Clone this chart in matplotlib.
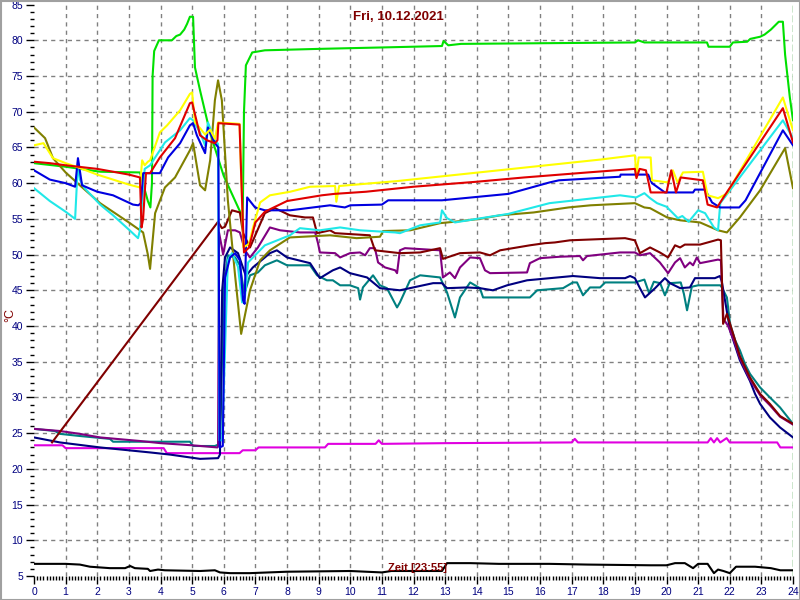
# -*- coding: utf-8 -*-
'''
    Temperaturverlauf eines Tages (Fri, 10.12.2021)
'''
import matplotlib
matplotlib.use('Agg')
import matplotlib.pyplot as plt
from matplotlib.patches import Rectangle

plt.rcParams['font.family'] = ['Liberation Sans', 'DejaVu Sans']

'''
    Daten (Stunde, Temperatur in °C), aus dem Bild abgelesen
'''
green_h = [0, 1.0, 2.1, 3.35, 3.6, 3.68, 3.73, 3.75, 3.8, 3.95, 4.36, 4.5, 4.62, 4.75, 4.84, 4.93, 5.03, 5.09,
           5.25, 5.57, 6.0, 6.6, 6.64, 6.7, 6.9, 7.3, 9.0, 11.0, 12.9, 12.95, 13.1, 13.5, 19.0, 19.1, 19.3,
           21.28, 21.33, 22.0, 22.1, 22.55, 22.65, 22.96, 23.1, 23.3, 23.55, 23.68, 23.75, 23.9, 24.0]
green_v = [62.8, 62.3, 61.6, 61.5, 57.5, 56.6, 60.0, 75.0, 78.5, 80.0, 80.0, 80.6, 80.8, 81.5, 82.3, 83.3, 83.3, 76.2,
           73.0, 67.0, 61.0, 55.2, 70.0, 76.5, 78.3, 78.6, 78.8, 79.0, 79.2, 79.9, 79.3, 79.5, 79.7, 80.0, 79.7,
           79.7, 79.1, 79.1, 79.7, 79.8, 80.2, 80.5, 80.8, 81.5, 82.6, 82.6, 78.0, 72.0, 68.8]

yellow_h = [0, 0.3, 0.6, 1.0, 1.4, 2.0, 3.0, 3.35, 3.42, 3.5, 3.6, 3.67, 3.98, 4.21, 4.62, 4.93, 5.0, 5.09,
            5.25, 5.41, 5.57, 5.72, 5.82, 6.5, 6.62, 6.8, 6.92, 7.15, 7.46, 8.1, 8.73, 9.52, 9.56, 9.65, 11.5,
            14.7, 17.9, 19.0, 19.05, 19.12, 19.5, 19.54, 20.05, 20.2, 20.35, 20.52, 21.15, 21.3, 21.63, 21.9,
            23.68, 24.0]
yellow_v = [65.3, 65.6, 63.5, 62.8, 62.2, 61.2, 59.8, 59.4, 63.2, 62.5, 63.0, 63.2, 67.1, 68.1, 70.2, 72.5, 72.7, 68.5,
            67.7, 66.8, 67.5, 66.2, 68.5, 68.3, 51.0, 51.5, 53.7, 57.3, 58.3, 58.8, 59.5, 59.6, 57.4, 59.6, 60.3,
            61.8, 63.3, 63.9, 61.1, 63.6, 63.6, 60.4, 60.1, 61.8, 60.1, 61.5, 61.6, 58.3, 57.9, 58.5,
            72.0, 67.4]

red_h = [0, 0.5, 1.0, 2.0, 3.0, 3.35, 3.4, 3.45, 3.54, 3.67, 3.98, 4.46, 4.93, 5.0, 5.25, 5.47, 5.72, 5.8, 5.83,
         6.5, 6.56, 6.64, 6.8, 7.0, 7.3, 8.0, 9.1, 9.5, 10.5, 12.0, 14.0, 15.5, 17.5, 19.0, 19.05, 19.15, 19.35,
         19.5, 20.0, 20.15, 20.3, 20.45, 21.15, 21.3, 21.6, 21.8, 23.68, 24.0]
red_v = [63.0, 62.8, 62.5, 62.0, 61.2, 60.8, 53.8, 55.0, 61.4, 61.4, 63.6, 66.3, 71.2, 71.3, 66.7, 66.0, 65.6, 66.0, 68.4,
         68.2, 60.0, 50.3, 51.0, 54.5, 56.0, 57.5, 58.3, 58.5, 58.8, 59.5, 60.2, 60.8, 61.5, 62.0, 60.7, 62.0, 61.8,
         58.7, 58.7, 61.8, 58.7, 60.8, 60.4, 57.0, 56.6, 58.0, 70.5, 65.7]

blue_h = [0, 0.5, 1.0, 1.3, 1.39, 1.52, 2.0, 2.5, 3.13, 3.3, 3.38, 3.45, 3.98, 4.24, 4.62, 4.93, 5.03, 5.15, 5.41,
          5.5, 5.72, 5.83, 5.87, 5.97, 6.04, 6.2, 6.36, 6.51, 6.61, 6.66, 6.74, 6.99, 7.3, 8.1, 9.36, 9.83, 10.0,
          11.0, 11.2, 12.9, 15.0, 16.3, 16.6, 18.53, 18.55, 19.42, 19.54, 19.95, 20.84, 20.9, 21.22, 21.44, 21.69,
          22.3, 22.5, 23.68, 24.0]
blue_v = [61.8, 60.5, 60.0, 59.5, 63.5, 59.7, 58.8, 58.3, 57.0, 56.9, 57.2, 61.4, 61.4, 63.6, 65.6, 68.1, 68.4, 66.7, 64.2,
          67.8, 65.6, 65.0, 23.0, 23.2, 46.8, 49.6, 50.2, 49.2, 43.6, 43.1, 58.0, 56.6, 56.2, 56.2, 56.9, 56.6, 56.9,
          57.0, 57.6, 57.6, 58.5, 60.1, 60.4, 60.9, 61.2, 61.2, 60.0, 58.7, 58.7, 59.1, 59.1, 57.3, 56.6,
          56.6, 57.6, 67.4, 65.3]

cyan_h = [0, 0.5, 1.0, 1.3, 1.39, 1.45, 1.6, 2.09, 2.5, 3.0, 3.29, 3.35, 3.5, 3.67, 4.14, 4.62, 4.93, 5.03, 5.25,
          5.41, 5.5, 5.72, 5.82, 5.86, 5.95, 6.13, 6.26, 6.45, 6.58, 6.67, 6.77, 7.3, 8.09, 8.41, 9.04, 9.68, 10.31,
          11.42, 11.57, 12.21, 12.84, 12.9, 13.06, 13.31, 14.0, 15.0, 16.3, 18.53, 19.04, 19.3, 19.48, 19.7, 20.0,
          20.36, 20.5, 20.7, 21.0, 21.22, 21.5, 21.63, 21.7, 23.68, 24.0]
cyan_v = [59.3, 57.5, 56.0, 55.0, 63.0, 60.5, 59.3, 57.0, 55.5, 53.5, 52.3, 53.4, 62.0, 62.5, 65.7, 67.4, 69.1, 68.8, 67.1,
          65.3, 68.5, 66.0, 65.5, 24.0, 24.0, 49.2, 50.2, 48.3, 43.3, 44.0, 48.9, 51.3, 52.7, 53.7, 53.4, 53.8, 53.4,
          53.1, 53.0, 54.1, 54.5, 56.2, 55.1, 54.5, 55.0, 55.7, 57.2, 58.3, 58.0, 58.6, 57.9, 57.2, 56.7,
          55.1, 55.4, 54.6, 56.2, 55.8, 53.8, 53.4, 57.2, 68.8, 66.3]

olive_h = [0, 0.35, 0.6, 1.0, 1.5, 2.09, 3.0, 3.45, 3.6, 3.67, 3.83, 4.14, 4.46, 4.93, 5.03, 5.25, 5.41, 5.57, 5.72,
           5.82, 5.94, 6.13, 6.36, 6.55, 6.83, 7.15, 7.46, 8.09, 9.36, 10.2, 10.94, 11.04, 11.9, 12.84, 13.3, 14.1,
           14.74, 15.8, 16.9, 17.6, 19.0, 19.3, 19.48, 20.02, 20.43, 21.06, 21.63, 21.91, 22.32, 22.96, 23.75, 24.0]
olive_v = [67.8, 66.3, 63.5, 61.5, 59.5, 57.2, 54.5, 53.1, 50.0, 48.0, 55.8, 59.4, 60.8, 64.6, 65.6, 59.7, 59.0, 63.2, 71.6,
           74.4, 71.6, 57.6, 47.0, 38.9, 45.0, 49.2, 50.6, 52.4, 52.7, 52.3, 52.5, 53.3, 53.4, 54.4, 54.6, 55.0,
           55.5, 55.9, 56.6, 56.9, 57.2, 56.6, 56.5, 55.2, 54.8, 54.5, 53.4, 53.1, 55.2, 59.0, 64.9, 59.3]

maroon_h = [0.57, 5.82, 5.94, 6.04, 6.26, 6.51, 6.61, 6.83, 7.3, 7.62, 8.09, 8.57, 8.82, 8.95, 9.36, 9.52, 10.62,
            10.78, 11.57, 12.21, 12.84, 12.93, 13.47, 14.1, 14.42, 14.74, 15.68, 16.16, 16.47, 16.95, 18.69, 19.0,
            19.16, 19.48, 19.79, 20.05, 20.27, 20.43, 20.58, 21.06, 21.63, 21.72, 21.79, 21.91, 22.17, 22.32,
            22.64, 22.96, 23.27, 23.59, 24.0]
maroon_v = [23.7, 54.6, 53.7, 53.9, 56.2, 55.9, 53.0, 51.0, 55.8, 56.5, 55.5, 55.2, 55.2, 53.0, 53.4, 53.0, 52.7,
            50.6, 50.2, 50.3, 50.9, 49.4, 50.2, 50.3, 49.9, 50.6, 51.3, 51.6, 51.7, 52.0, 52.3, 52.0,
            50.2, 51.0, 50.3, 49.6, 51.3, 51.0, 51.4, 51.4, 52.1, 52.0, 40.3, 41.7, 38.0, 35.8,
            32.8, 30.5, 29.1, 27.4, 26.3]

purple_h = [0, 0.82, 1.45, 2.09, 3.35, 4.0, 5.0, 5.8, 5.82, 5.85, 5.94, 5.98, 6.13, 6.36, 6.51, 6.67, 6.83, 7.08,
            7.46, 7.78, 8.41, 8.89, 8.98, 9.04, 9.52, 9.68, 9.99, 10.31, 10.47, 10.62, 10.78, 10.88, 11.1, 11.42,
            11.48, 11.57, 11.73, 12.84, 12.93, 13.15, 13.31, 13.47, 13.79, 14.1, 14.26, 14.42, 15.59, 15.68, 16.0,
            16.63, 17.26, 17.36, 17.49, 18.53, 19.0, 19.16, 19.48, 19.79, 20.05, 20.27, 20.43, 20.58, 20.74,
            20.84, 20.96, 21.06, 21.63, 21.72, 21.8, 21.95, 22.17, 22.32, 22.64, 22.96, 23.27, 23.59, 24.0]
purple_v = [25.6, 25.3, 24.9, 24.4, 23.9, 23.6, 23.3, 23.0, 23.2, 53.1, 51.0, 50.0, 53.4, 53.4, 53.1, 50.6, 49.6, 51.0,
            53.8, 53.4, 53.1, 53.1, 51.6, 50.3, 50.2, 49.6, 50.2, 50.3, 49.9, 50.9, 50.9, 48.9, 48.2, 47.8,
            47.4, 50.6, 50.9, 50.6, 46.8, 47.5, 46.7, 48.2, 49.6, 49.5, 47.8, 47.4, 47.5, 48.8, 49.5,
            49.7, 49.8, 49.2, 49.8, 50.3, 50.3, 49.9, 50.2, 48.9, 47.4, 48.9, 49.5, 48.2, 48.9,
            48.5, 49.6, 48.8, 49.3, 49.2, 41.0, 40.0, 37.5, 35.5, 32.5, 30.3, 28.9, 27.3, 26.2]

navy_h = [0, 0.82, 2.09, 3.67, 4.3, 5.25, 5.82, 5.88, 5.95, 6.04, 6.2, 6.45, 6.7, 6.92, 7.3, 7.46, 7.68, 8.0, 8.73,
          9.04, 9.45, 9.68, 9.99, 10.53, 10.94, 11.57, 12.62, 12.9, 13.06, 13.69, 14.1, 14.51, 14.96, 15.59, 17.04,
          17.9, 18.69, 18.85, 19.0, 19.16, 19.32, 19.64, 19.95, 20.11, 20.43, 20.74, 20.9, 21.53, 21.69, 21.75,
          22.01, 22.32, 22.64, 22.8, 22.96, 23.27, 23.59, 24.0]
navy_v = [24.4, 23.7, 23.0, 22.3, 22.0, 21.4, 21.5, 22.0, 45.0, 49.6, 51.0, 50.2, 47.0, 48.2, 49.6, 50.2, 50.6, 49.6, 48.8,
          46.7, 47.8, 48.2, 47.4, 46.8, 45.3, 45.0, 46.0, 46.0, 45.3, 45.4, 45.3, 45.0, 45.7, 46.4, 47.0,
          46.7, 46.7, 47.0, 46.7, 45.3, 44.0, 45.3, 46.7, 46.0, 45.3, 45.4, 46.7, 46.7, 47.0, 46.2,
          39.4, 35.2, 32.3, 30.5, 29.1, 27.2, 25.8, 24.4]

teal_h = [0, 0.66, 0.82, 1.45, 2.4, 2.5, 4.93, 5.03, 5.72, 5.88, 6.0, 6.13, 6.36, 6.51, 6.65, 6.83, 7.08, 7.3, 7.68,
          8.0, 8.73, 8.95, 9.26, 9.45, 9.68, 9.99, 10.25, 10.31, 10.4, 10.72, 10.94, 11.16, 11.48, 11.57, 11.89,
          12.21, 12.84, 13.06, 13.31, 13.47, 13.79, 14.1, 14.2, 15.68, 15.91, 16.73, 17.04, 17.17, 17.36, 17.58,
          17.9, 18.06, 19.0, 19.3, 19.45, 19.6, 19.8, 19.95, 20.1, 20.45, 20.55, 20.65, 20.8, 21.0, 21.7, 21.75,
          21.91, 22.01, 22.17, 22.32, 22.48, 22.64, 22.96, 23.27, 23.59, 24.0]
teal_v = [25.6, 25.3, 24.9, 24.6, 24.2, 23.8, 23.8, 23.2, 23.2, 23.5, 45.0, 49.9, 49.6, 48.5, 44.5, 47.1, 47.5, 48.5, 49.2,
          48.5, 48.5, 47.1, 46.4, 46.4, 45.7, 45.7, 45.3, 43.7, 45.4, 47.1, 45.7, 45.3, 42.6, 43.3, 46.4,
          47.1, 46.8, 44.7, 41.2, 44.0, 46.1, 45.3, 44.0, 44.0, 45.0, 45.3, 46.1, 46.1, 44.3, 45.4,
          45.4, 46.1, 46.1, 46.5, 44.6, 46.2, 46.0, 44.3, 46.0, 46.1, 44.5, 42.2, 45.5, 45.7, 45.7, 45.4,
          44.0, 40.3, 38.0, 36.6, 34.7, 33.3, 31.4, 30.0, 28.6, 26.3]

magenta_h = [0, 0.9, 1.0, 4.1, 4.2, 6.5, 6.6, 7.0, 7.1, 9.2, 9.3, 10.8, 10.9, 11.0, 13.0, 17.0, 17.1, 17.2, 21.3,
             21.4, 21.5, 21.6, 21.7, 21.9, 22.0, 23.5, 23.6, 24.0]
magenta_v = [23.3, 23.3, 22.9, 22.9, 22.2, 22.2, 22.6, 22.6, 23.0, 23.0, 23.5, 23.5, 24.0, 23.5, 23.6, 23.7, 24.2, 23.7,
             23.7, 24.3, 23.7, 24.3, 23.7, 24.3, 23.7, 23.7, 23.0, 23.0]

black_h = [0, 1.0, 1.45, 1.77, 2.4, 2.88, 3.04, 3.19, 3.6, 3.67, 3.92, 4.14, 5.25, 5.72, 5.88, 6.2, 6.83, 8.0, 10.0,
           11.0, 11.3, 12.9, 13.06, 13.8, 14.7, 16.3, 17.5, 19.5, 20.0, 20.27, 20.58, 20.84, 21.0, 21.3, 21.5,
           21.63, 21.8, 22.0, 22.2, 22.8, 23.3, 23.6, 24.0]
black_v = [6.7, 6.7, 6.6, 6.3, 6.1, 6.1, 6.4, 6.1, 6.0, 5.7, 5.9, 5.8, 5.7, 5.8, 5.5, 5.4, 5.4, 5.6, 5.7,
           5.5, 5.7, 5.7, 6.8, 6.8, 6.7, 6.7, 6.6, 6.5, 6.5, 6.8, 6.8, 6.1, 6.7, 6.7, 5.4,
           5.9, 5.7, 5.4, 6.3, 6.3, 6.1, 5.8, 5.8]

'''
    Plot
'''
fig = plt.figure(figsize=(8, 6), dpi=100)
ax = fig.add_axes([34/800, 1 - 576/600, 759/800, (576 - 4.6)/600])

# Gitter (nur innen)
for v in range(10, 85, 5):
    ax.axhline(v, color='#808080', lw=1, ls=(0, (3, 3)), zorder=1)
for h in range(1, 24):
    ax.axvline(h, color='#808080', lw=1, ls=(0, (3, 3)), zorder=1)
ax.axvline(24, color='#008000', lw=1, ls=(0, (5, 2)), zorder=1)

lw = 1.5
ax.plot(green_h, green_v, color='#00e000', lw=lw)
ax.plot(black_h, black_v, color='black', lw=lw)
ax.plot(magenta_h, magenta_v, color='#e000e0', lw=lw)
ax.plot(teal_h, teal_v, color='#008080', lw=lw)
ax.plot(navy_h, navy_v, color='#000080', lw=lw)
ax.plot(purple_h, purple_v, color='#800080', lw=lw)
ax.plot(maroon_h, maroon_v, color='#800000', lw=lw)
ax.plot(olive_h, olive_v, color='#808000', lw=lw)
ax.plot(cyan_h, cyan_v, color='#20e8e8', lw=lw)
ax.plot(blue_h, blue_v, color='#0000e0', lw=lw)
ax.plot(yellow_h, yellow_v, color='#ffff00', lw=lw)
ax.plot(red_h, red_v, color='#e00000', lw=lw)

ax.set_xlim(0, 24)
ax.set_ylim(5, 85)
ax.set_xticks(range(0, 25))
ax.set_xticks([i/10 for i in range(0, 241)], minor=True)
ax.set_yticks(range(5, 86, 5))
ax.set_yticks(range(5, 86), minor=True)
ax.tick_params(which='major', direction='out', length=6, width=1, labelsize=7.5,
               labelcolor='#000080', pad=2)
ax.tick_params(which='minor', direction='out', length=3, width=1)
for s in ax.spines.values():
    s.set_visible(False)
ax.set_facecolor('white')

# Texte
fig.text(398/800, 1 - 17/600, 'Fri, 10.12.2021', ha='center', va='center',
         fontsize=9.5, fontweight='bold', color='#800000')
fig.text(418/800, 1 - 568/600, 'Zeit [23:55]', ha='center', va='center',
         fontsize=8, fontweight='bold', color='#800000')
fig.text(10/800, 1 - 315/600, '°C', ha='center', va='center', rotation=90,
         fontsize=9, color='#800000')

# Rahmen
fig.patches.append(Rectangle((0.5/800, 0.5/600), 799/800, 599/600, transform=fig.transFigure,
                             fill=False, edgecolor='#a0a0a0', lw=1.5))

plt.savefig('out.png', dpi=100)
